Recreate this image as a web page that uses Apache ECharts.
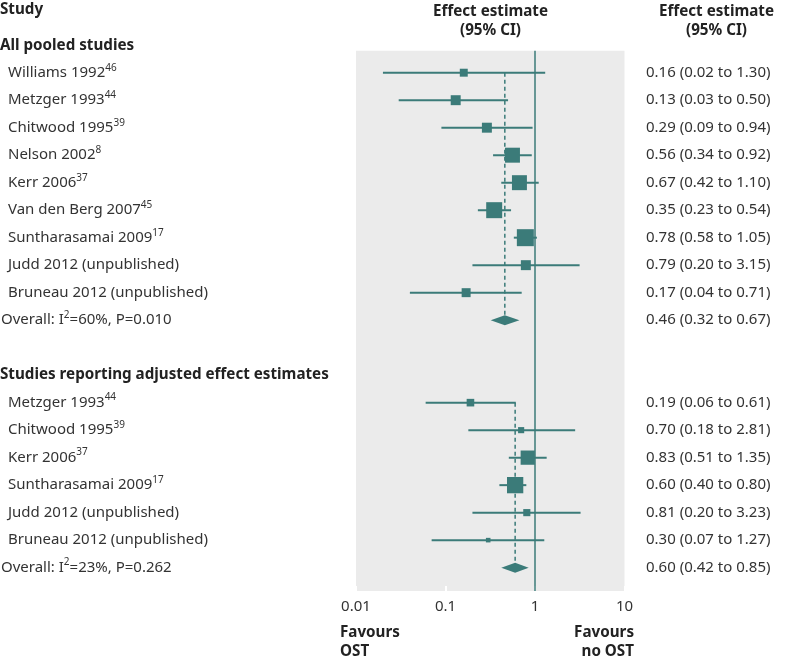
<!DOCTYPE html>
<html><head><meta charset="utf-8">
<script src="https://cdn.jsdelivr.net/npm/echarts@6/dist/echarts.min.js"></script>
<style>html,body{margin:0;padding:0;background:#fff}#c{width:790px;height:662px}</style>
</head><body><div id="c"></div>
<script>
// ---- Data ----
const sectionTitles = ['All pooled studies', 'Studies reporting adjusted effect estimates'];

const studies1 = ['Williams 1992','Metzger 1993','Chitwood 1995','Nelson 2002','Kerr 2006','Van den Berg 2007','Suntharasamai 2009','Judd 2012 (unpublished)','Bruneau 2012 (unpublished)'];
const refs1    = ['46','44','39','8','37','45','17','',''];
const est1     = [0.16,0.13,0.29,0.56,0.67,0.35,0.78,0.79,0.17];
const lo1      = [0.02,0.03,0.09,0.34,0.42,0.23,0.58,0.20,0.04];
const hi1      = [1.30,0.50,0.94,0.92,1.10,0.54,1.05,3.15,0.71];
const weights1 = [4.4,6.9,6.9,15.6,15.6,17.8,20.1,6.9,5.6];

const studies2 = ['Metzger 1993','Chitwood 1995','Kerr 2006','Suntharasamai 2009','Judd 2012 (unpublished)','Bruneau 2012 (unpublished)'];
const refs2    = ['44','39','37','17','',''];
const est2     = [0.19,0.70,0.83,0.60,0.81,0.30];
const lo2      = [0.06,0.18,0.51,0.40,0.20,0.07];
const hi2      = [0.61,2.81,1.35,0.80,3.23,1.27];
const weights2 = [9.1,5.9,32,41.8,8,3.3];

const pooledEst = [0.46, 0.60];
const pooledLo  = [0.32, 0.42];
const pooledHi  = [0.67, 0.85];
const hetI2     = [60, 23];
const hetP      = ['0.010', '0.262'];

const xTickLabels = ['0.01','0.1','1','10'];

// ---- Styling ----
const TEAL = '#3b7b79';
const TEXT = '#333333';
const FONT = 'Noto Sans';
const BOLD = 'bold 15.2px "Noto Sans"';
const sizeScale = [3.79, 2.52];

// ---- Build rows ----
const sections = [
  {names: studies1, refs: refs1, est: est1, lo: lo1, hi: hi1, w: weights1},
  {names: studies2, refs: refs2, est: est2, lo: lo2, hi: hi2, w: weights2}
];
const ciData = [], sqData = [], dashData = [], diaData = [], textRows = [];
let row = -1;
sections.forEach((s, si) => {
  textRows.push({row: row, left: '{b|' + sectionTitles[si] + '}', indent: 0, right: ''});
  row++;
  const firstRow = row;
  s.names.forEach((n, i) => {
    ciData.push([s.lo[i], s.hi[i], row]);
    sqData.push([s.est[i], row, sizeScale[si] * Math.sqrt(s.w[i])]);
    textRows.push({
      row: row,
      left: n + (s.refs[i] ? '{sup|' + s.refs[i] + '}' : ''),
      indent: 8,
      right: s.est[i].toFixed(2) + ' (' + s.lo[i].toFixed(2) + ' to ' + s.hi[i].toFixed(2) + ')'
    });
    row++;
  });
  dashData.push([pooledEst[si], firstRow, row]);
  diaData.push([pooledLo[si], pooledEst[si], pooledHi[si], row]);
  textRows.push({
    row: row,
    left: 'Overall: I{sup|2}=' + hetI2[si] + '%, P=' + hetP[si],
    indent: 1,
    right: pooledEst[si].toFixed(2) + ' (' + pooledLo[si].toFixed(2) + ' to ' + pooledHi[si].toFixed(2) + ')'
  });
  row += 2;
});

const richStyles = {
  sup: {fontSize: 10, fontFamily: FONT, fill: TEXT, verticalAlign: 'top', lineHeight: 9},
  b: {fontSize: 15.2, fontFamily: FONT, fontWeight: 'bold', fill: '#222'}
};

const chart = echarts.init(document.getElementById('c'), null, {renderer: 'canvas'});
chart.setOption({
  animation: false,
  backgroundColor: '#fff',
  grid: {left: 356, right: 165.5, top: 50.7, bottom: 71, show: true, backgroundColor: '#ebebeb', borderWidth: 0},
  xAxis: {
    type: 'log', logBase: 10, min: 0.01, max: 10, position: 'bottom',
    axisLine: {show: false, onZero: false},
    axisTick: {show: true, inside: true, length: 5, lineStyle: {color: '#fff', width: 2}},
    splitLine: {show: false},
    axisLabel: {
      fontSize: 15, fontFamily: FONT, color: TEXT, margin: 8,
      formatter: v => { const i = Math.round(Math.log10(v)) + 2; return xTickLabels[i] || ''; }
    }
  },
  yAxis: {type: 'value', inverse: true, min: -0.8, max: 18.85, show: false},
  graphic: [
    {type: 'text', left: 0, top: 2, style: {text: 'Study', font: BOLD, fill: '#222'}},
    {type: 'text', x: 490.5, y: 2, style: {text: 'Effect estimate\n(95% CI)', font: BOLD, fill: '#222', align: 'center', lineHeight: 19}},
    {type: 'text', x: 716.5, y: 2, style: {text: 'Effect estimate\n(95% CI)', font: BOLD, fill: '#222', align: 'center', lineHeight: 19}},
    {type: 'text', x: 340, y: 623, style: {text: 'Favours\nOST', font: BOLD, fill: '#222', align: 'left', lineHeight: 19}},
    {type: 'text', x: 634, y: 623, style: {text: 'Favours\nno OST', font: BOLD, fill: '#222', align: 'right', lineHeight: 19}}
  ],
  series: [
    {
      type: 'custom', name: 'ci', data: ciData, z: 3,
      renderItem: (p, api) => {
        const a = api.coord([api.value(0), api.value(2)]);
        const b = api.coord([api.value(1), api.value(2)]);
        return {type: 'line', shape: {x1: a[0], y1: a[1], x2: b[0], y2: b[1]}, style: {stroke: TEAL, lineWidth: 2}};
      },
      markLine: {
        silent: true, symbol: 'none', label: {show: false},
        lineStyle: {color: TEAL, type: 'solid', width: 1.5},
        data: [{xAxis: 1}]
      }
    },
    {
      type: 'custom', name: 'pooledLine', data: dashData, z: 2,
      renderItem: (p, api) => {
        const a = api.coord([api.value(0), api.value(1)]);
        const b = api.coord([api.value(0), api.value(2)]);
        return {type: 'line', shape: {x1: a[0], y1: a[1], x2: b[0], y2: b[1] - 5}, style: {stroke: TEAL, lineWidth: 1.5, lineDash: [4, 3]}};
      }
    },
    {
      type: 'scatter', name: 'est', data: sqData, z: 4, symbol: 'rect',
      symbolSize: d => d[2], itemStyle: {color: TEAL, opacity: 1}
    },
    {
      type: 'custom', name: 'pooled', data: diaData, z: 4,
      renderItem: (p, api) => {
        const r = api.value(3);
        const l = api.coord([api.value(0), r]);
        const m = api.coord([api.value(1), r]);
        const h = api.coord([api.value(2), r]);
        return {type: 'polygon', shape: {points: [[l[0], l[1]], [m[0], m[1] - 5], [h[0], h[1]], [m[0], m[1] + 5]]}, style: {fill: TEAL}};
      }
    },
    {
      type: 'custom', name: 'text', data: textRows.map(t => [t.row]), z: 5, clip: false,
      renderItem: (p, api) => {
        const t = textRows[p.dataIndex];
        const y = api.coord([1, t.row])[1];
        const children = [{
          type: 'text', x: t.indent, y: y,
          style: {text: t.left, fill: TEXT, fontSize: 15, fontFamily: FONT, align: 'left', verticalAlign: 'middle', lineHeight: 20, rich: richStyles}
        }];
        if (t.right) children.push({
          type: 'text', x: 646, y: y,
          style: {text: t.right, fill: TEXT, fontSize: 15, fontFamily: FONT, align: 'left', verticalAlign: 'middle'}
        });
        return {type: 'group', children: children};
      }
    }
  ]
});
</script>
</body></html>
